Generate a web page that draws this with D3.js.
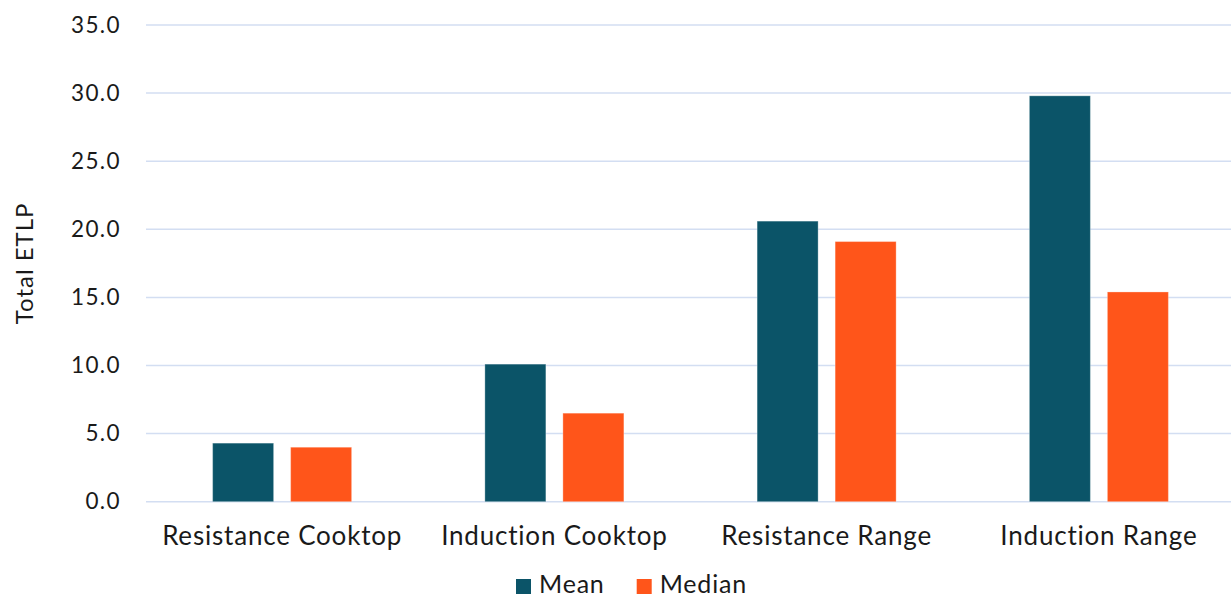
<!DOCTYPE html>
<html lang="en">
<head>
    <meta charset="UTF-8">
    <title>Total ETLP</title>
    <script src="https://d3js.org/d3.v7.min.js"></script>
    <style>
        body {margin: 0; background: #fff;}
        text {
            font-family: Lato, "Open Sans", sans-serif;
            fill: #1a1a1a;
        }
    </style>
</head>
<body>
<script>
    const width = 1231;
    const height = 598;

    const categories = ["Resistance Cooktop", "Induction Cooktop", "Resistance Range", "Induction Range"];
    const series = ["Mean", "Median"];
    const meanValues = [4.3, 10.1, 20.6, 29.8];
    const medianValues = [4.0, 6.5, 19.1, 15.4];
    const yTicks = [0, 5, 10, 15, 20, 25, 30, 35];
    const colors = {Mean: "#0b5468", Median: "#ff551a"};

    const rows = categories.map((c, i) => ({
        category: c,
        values: [
            {key: "Mean", value: meanValues[i]},
            {key: "Median", value: medianValues[i]}
        ]
    }));

    const margin = {top: 25, right: -4, bottom: 96, left: 146};

    const svg = d3.select("body").append("svg")
            .attr("width", width).attr("height", height);

    const x0 = d3.scaleBand()
            .domain(categories)
            .range([margin.left, width - margin.right])
            .padding(0);

    const x1 = d3.scaleBand()
            .domain(series)
            .range([0, x0.bandwidth()])
            .paddingInner(0.218)
            .paddingOuter(0.854);

    const y = d3.scaleLinear()
            .domain([0, 35])
            .range([height - margin.bottom - 0.3, margin.top]);

    // gridlines
    svg.append("g").attr("class", "grid")
            .selectAll("line")
            .data(yTicks)
            .enter()
            .append("line")
            .attr("x1", margin.left)
            .attr("x2", width)
            .attr("y1", d => y(d))
            .attr("y2", d => y(d))
            .style("stroke", "#d3def2")
            .style("stroke-width", 1.5);

    // y axis labels
    const yAxis = d3.axisLeft(y)
            .tickValues(yTicks)
            .tickFormat(d3.format(".1f"))
            .tickSize(0)
            .tickPadding(25);

    svg.append("g")
            .attr("transform", `translate(${margin.left},0)`)
            .call(yAxis)
            .call(g => g.select(".domain").remove())
            .selectAll("text")
            .style("font-size", "22.5px")
            .style("letter-spacing", "1.4px")
            .attr("fill", "#1a1a1a")
            .style("font-family", "Lato, sans-serif");

    // bars
    const groups = svg.selectAll("g.cat")
            .data(rows)
            .enter()
            .append("g")
            .attr("class", "cat")
            .attr("transform", d => `translate(${x0(d.category)},0)`);

    groups.selectAll("rect")
            .data(d => d.values)
            .enter()
            .append("rect")
            .attr("x", d => x1(d.key))
            .attr("width", x1.bandwidth())
            .attr("y", d => y(d.value))
            .attr("height", d => y(0) - y(d.value))
            .style("fill", d => colors[d.key])
            .style("stroke", "#fff")
            .style("stroke-opacity", .3)
            .style("stroke-width", 1);

    // category labels
    const xAxis = d3.axisBottom(x0).tickSize(0).tickPadding(25);
    svg.append("g")
            .attr("transform", `translate(0,${y(0)})`)
            .call(xAxis)
            .call(g => g.select(".domain").remove())
            .selectAll("text")
            .style("font-size", "26px")
            .style("letter-spacing", "0.8px")
            .attr("fill", "#1a1a1a")
            .style("font-family", "Lato, sans-serif");

    // y title
    svg.append("text")
            .attr("transform", `translate(33,${(y(0) + y(35)) / 2}) rotate(-90)`)
            .attr("text-anchor", "middle")
            .style("font-size", "24px")
            .style("letter-spacing", "1px")
            .text("Total ETLP");

    // legend
    const legend = svg.append("g").attr("transform", "translate(516,579)");
    const legendOffsets = [0, 120.7];
    const item = legend.selectAll("g")
            .data(series)
            .enter()
            .append("g")
            .attr("transform", (d, i) => `translate(${legendOffsets[i]},0)`);
    item.append("rect")
            .attr("width", 15).attr("height", 15)
            .style("fill", d => colors[d]);
    item.append("text")
            .attr("x", 23)
            .attr("y", 14)
            .style("font-size", "25px")
            .style("letter-spacing", "0.8px")
            .text(d => d);
</script>
</body>
</html>
